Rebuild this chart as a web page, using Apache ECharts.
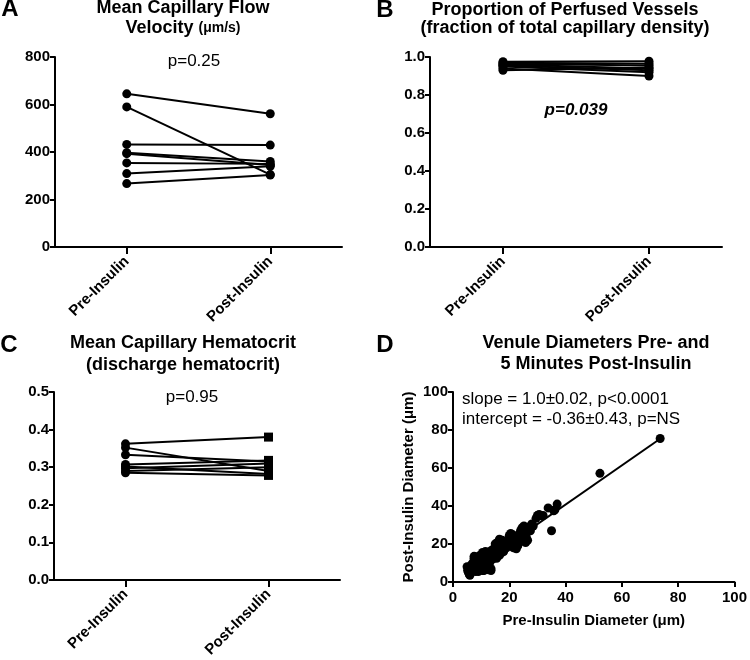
<!DOCTYPE html>
<html><head><meta charset="utf-8">
<script src="https://cdn.jsdelivr.net/npm/echarts@6/dist/echarts.min.js"></script>
<style>html,body{margin:0;padding:0;background:#fff}#c{width:750px;height:660px}</style>
</head><body><div id="c"></div>
<script>
// ---------- DATA ----------
const categories = ['Pre-Insulin', 'Post-Insulin'];

// Panel A: Mean capillary flow velocity (µm/s), one pair per subject
const velocityPre  = [645, 590, 432, 397, 393, 354, 309, 267];
const velocityPost = [561, 305, 429, 360, 345, 350, 340, 303];

// Panel B: Proportion of perfused vessels
const perfusedPre  = [0.975, 0.970, 0.965, 0.960, 0.955, 0.950, 0.940, 0.930];
const perfusedPost = [0.978, 0.965, 0.955, 0.940, 0.930, 0.920, 0.900, 0.945];

// Panel C: Mean capillary hematocrit
const hctPre  = [0.362, 0.352, 0.333, 0.307, 0.302, 0.297, 0.290, 0.285];
const hctPost = [0.380, 0.290, 0.315, 0.318, 0.282, 0.310, 0.300, 0.278];

// Panel D: venule diameters [pre, post] (µm)
const venulePoints = [
 [73.6,75.5],[52.2,57.2],[35,27],[33.8,39],[37,41],[36.2,38],[35.8,37.5],[30,35],[30.6,35.5],[31.5,34.8],
 [29.5,33.5],[28,30.5],[27,29],[26.5,28],[25.2,29.5],[24.5,28.5],[26,26],[25,25],[24,27],[26.5,22],
 [25.8,20.8],[24.5,21.5],[23,19],[22,20],[21,25],[20,24.5],[21.5,23],[20.5,25.5],[19,18],[22.5,23.5],
 [23.5,25],[24.8,23.5],[19.5,20],[18.5,21],[17.5,22],[16.5,22.5],[17,20],[16,19],[15.5,20.5],[16.2,17.5],
 [18,16],[17.2,15.3],[15,18],[14.5,16],[14,17],[13.5,14],[15,15],[13,16],[12.5,13],[12,15],
 [11.5,16],[11,14],[10.5,15.5],[10,13],[9.5,14],[9,12],[8.5,13],[8,11],[7.5,12.5],[7.5,13.5],
 [7,10],[6.5,9],[6,8],[5.5,7.5],[5,8],[5.2,6],[5.5,5],[5.8,4],[6,3.5],[6.5,5.5],
 [7,7],[8,8],[8.5,6],[9,7],[9.5,8],[10,9],[10.5,6],[11,8],[11.5,10],[12,11],
 [12.5,9],[13,10],[13.5,7],[13.5,6],[12.5,6.5],[11,6],[9,5.5],[8,5.5],[7,5.8],[14,12],
 [14.8,13],[15.5,12.5],[16.5,14],[17.5,17],[18.5,18.5],[19.8,22],[20.5,19],[21.5,18],[22.5,17.5],[9.8,10.5],
 [10.8,11.5],[11.8,12.5],[12.8,13.5],[8.8,9.5],[7.8,8.5],[6.8,7.8],[13.8,15],[14.8,15.5],[15.8,16.5],[16.8,17.5],
 [18,19.5],[19,19],[20,21],[21,21.5],[22,22],[23,24],[24,23],[10,11.5],[9.5,10],[12,8],
 [11,9.5],[26,24],[27.5,27],[28.5,29.5],[32,35],[16,21],[15,20]
];
const regressionLine = [[5.5, 5.2], [73.6, 75.4]];

// Tick settings
const axisA = {min: 0, max: 800, interval: 200};
const axisB = {min: 0, max: 1, interval: 0.2};
const axisC = {min: 0, max: 0.5, interval: 0.1};
const axisD = {min: 0, max: 100, interval: 20};

// ---------- CHART ----------
const FF = '"Liberation Sans", Arial, Helvetica, sans-serif';
const chart = echarts.init(document.getElementById('c'), null, {renderer: 'canvas'});

const grids = [
  {left: 55, top: 57, width: 287, height: 190},
  {left: 430, top: 57, width: 292, height: 190},
  {left: 54, top: 392, width: 286, height: 190},
  {left: 453, top: 392, width: 285, height: 190}
];

const lineStyleAxis = {show: true, lineStyle: {color: '#000', width: 2}};
function catAxis(gi) {
  return {
    type: 'category', gridIndex: gi, data: categories, boundaryGap: true,
    axisLine: lineStyleAxis,
    axisTick: {show: true, alignWithLabel: true, length: 7, lineStyle: {color: '#000', width: 2}},
    axisLabel: {rotate: 45, margin: 12, color: '#000', fontFamily: FF, fontWeight: 'bold', fontSize: 15},
    splitLine: {show: false}
  };
}
function valAxis(gi, ax, dec, fs) {
  return {
    type: 'value', gridIndex: gi, min: ax.min, max: ax.max, interval: ax.interval,
    axisLine: lineStyleAxis,
    axisTick: {show: true, length: 5, lineStyle: {color: '#000', width: 2}},
    axisLabel: {margin: 5, color: '#000', fontFamily: FF, fontWeight: 'bold', fontSize: fs || 15,
      formatter: v => dec ? v.toFixed(dec) : String(v)},
    splitLine: {show: false}
  };
}

const xAxes = [catAxis(0), catAxis(1), catAxis(2),
  Object.assign(valAxis(3, axisD, 0, 15), {
    name: 'Pre-Insulin Diameter (μm)', nameLocation: 'middle', nameGap: 31,
    nameTextStyle: {color: '#000', fontFamily: FF, fontWeight: 'bold', fontSize: 15},
    axisLabel: {margin: 8, color: '#000', fontFamily: FF, fontWeight: 'bold', fontSize: 15}
  })];
const yAxes = [valAxis(0, axisA, 0), valAxis(1, axisB, 1), valAxis(2, axisC, 1),
  Object.assign(valAxis(3, axisD, 0, 15), {
    name: 'Post-Insulin Diameter (μm)', nameLocation: 'middle', nameGap: 37, nameRotate: 90,
    nameTextStyle: {color: '#000', fontFamily: FF, fontWeight: 'bold', fontSize: 15}
  })];

const series = [];
function pairSeries(pre, post, idx, postSymbol) {
  for (let i = 0; i < pre.length; i++) {
    series.push({
      type: 'line', xAxisIndex: idx, yAxisIndex: idx,
      data: [{value: pre[i], symbol: 'circle'}, {value: post[i], symbol: postSymbol}],
      symbolSize: 9, showSymbol: true,
      lineStyle: {color: '#000', width: 2},
      itemStyle: {color: '#000', borderWidth: 0},
      silent: true, animation: false
    });
  }
}
pairSeries(velocityPre, velocityPost, 0, 'circle');
pairSeries(perfusedPre, perfusedPost, 1, 'circle');
pairSeries(hctPre, hctPost, 2, 'rect');
series.push({
  type: 'scatter', xAxisIndex: 3, yAxisIndex: 3, data: venulePoints,
  symbol: 'circle', symbolSize: 9, itemStyle: {color: '#000', opacity: 1}, animation: false
});
series.push({
  type: 'line', xAxisIndex: 3, yAxisIndex: 3, data: regressionLine,
  showSymbol: false, symbol: 'none', lineStyle: {color: '#000', width: 2}, animation: false
});

function txt(x, y, text, opts) {
  return {
    type: 'text', x: x, y: y, silent: true,
    style: Object.assign({
      text: text, fill: '#000', font: 'bold 18px ' + FF,
      textAlign: 'center', textVerticalAlign: 'middle'
    }, opts || {})
  };
}

const graphics = [
  txt(10, 9, 'A', {font: 'bold 24px ' + FF}),
  txt(385, 10, 'B', {font: 'bold 24px ' + FF}),
  txt(9, 345, 'C', {font: 'bold 24px ' + FF}),
  txt(385, 345, 'D', {font: 'bold 24px ' + FF}),
  txt(183, 8, 'Mean Capillary Flow'),
  {
    type: 'text', x: 183, y: 28.5, silent: true,
    style: {
      text: 'Velocity {s|(μm/s)}', fill: '#000', font: 'bold 18px ' + FF,
      textAlign: 'center', textVerticalAlign: 'middle',
      rich: {s: {fontSize: 14, fontWeight: 'bold', fontFamily: FF, fill: '#000'}}
    }
  },
  txt(565, 10, 'Proportion of Perfused Vessels'),
  txt(565, 28, '(fraction of total capillary density)'),
  txt(183, 343.5, 'Mean Capillary Hematocrit'),
  txt(183, 365, '(discharge hematocrit)'),
  txt(596, 343.5, 'Venule Diameters Pre- and'),
  txt(596, 364.5, '5 Minutes Post-Insulin'),
  txt(194, 61, 'p=0.25', {font: '17px ' + FF}),
  txt(576, 110, 'p=0.039', {font: 'italic bold 17px ' + FF}),
  txt(192, 397, 'p=0.95', {font: '17px ' + FF}),
  txt(462, 399, 'slope = 1.0±0.02, p<0.0001', {font: '17px ' + FF, textAlign: 'left'}),
  txt(462, 419, 'intercept = -0.36±0.43, p=NS', {font: '17px ' + FF, textAlign: 'left'})
];

chart.setOption({
  animation: false,
  backgroundColor: '#fff',
  grid: grids,
  xAxis: xAxes,
  yAxis: yAxes,
  series: series,
  graphic: graphics
});
</script></body></html>
